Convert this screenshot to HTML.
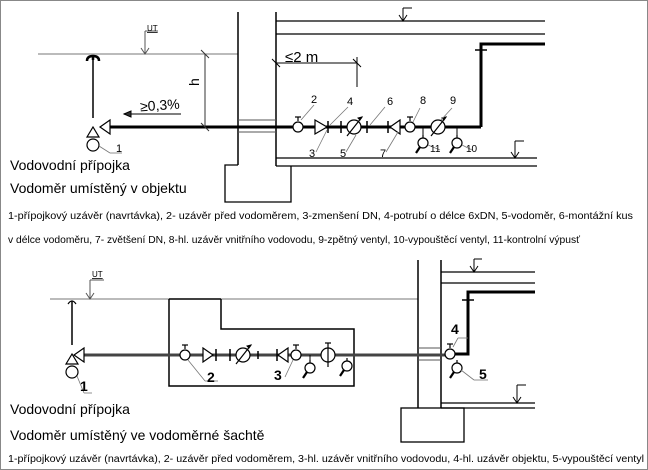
<!DOCTYPE html>
<html><head><meta charset="utf-8"><style>
html,body{margin:0;padding:0;background:#fff}
svg{display:block}
text{font-family:"Liberation Sans",sans-serif;fill:#000}
</style></head><body>
<svg width="648" height="470" viewBox="0 0 648 470">
<rect x="0.5" y="0.5" width="647" height="469" fill="#fff" stroke="#888"/>
<defs>
<g id="valve"><line x1="0" y1="-10" x2="0" y2="-6" stroke="#000" stroke-width="1.2"/><line x1="-3" y1="-10" x2="3" y2="-10" stroke="#000" stroke-width="1.2"/><circle cx="0" cy="0" r="5" fill="#fff" stroke="#000" stroke-width="1.2"/></g>
<g id="drain"><line x1="0" y1="-8" x2="0" y2="-4" stroke="#000" stroke-width="1.2"/><circle cx="0" cy="0" r="5" fill="#fff" stroke="#000" stroke-width="1.2"/><line x1="-3" y1="4" x2="-7" y2="10" stroke="#000" stroke-width="2.2"/></g>
<g id="meter"><circle cx="0" cy="0" r="7" fill="#fff" stroke="#000" stroke-width="1.2"/><line x1="-7" y1="9" x2="8" y2="-10" stroke="#000" stroke-width="1.2"/><path d="M8,-10 l-4,1 l2,2z" fill="#000"/></g>
</defs>

<!-- TOP DRAWING -->
<g stroke="#000" fill="none">
<line x1="38" y1="54" x2="238" y2="54" stroke="#777"/>
<line x1="145" y1="31" x2="145" y2="54" stroke="#555"/>
<path d="M141,48 L145,54 L149,48" stroke="#555"/>
<line x1="145" y1="31" x2="158" y2="31" stroke="#555"/>
<line x1="238" y1="12" x2="238" y2="165" stroke-width="1.5"/>
<line x1="276" y1="12" x2="276" y2="166" stroke-width="1.5"/>
<polyline points="238,165 225,165 225,202 291,202 291,166" stroke-width="1.3"/>
<line x1="276" y1="21" x2="545" y2="21" stroke-width="1.3"/>
<line x1="403" y1="8" x2="403" y2="21"/><line x1="403" y1="8" x2="412" y2="8"/><path d="M399,15 L403,21 L407,15"/>
<line x1="276" y1="34" x2="545" y2="34" stroke-width="1.3"/>
<polyline points="545,44 481,44 481,127" stroke-width="3"/>
<line x1="475" y1="50" x2="487" y2="50" stroke-width="1.5"/>
<line x1="276" y1="158" x2="537" y2="158" stroke-width="1.3"/>
<line x1="276" y1="166" x2="537" y2="166" stroke-width="1.3"/>
<line x1="515" y1="141" x2="515" y2="158"/><line x1="515" y1="141" x2="524" y2="141"/><path d="M511,152 L515,158 L519,152"/>
<line x1="238" y1="120" x2="276" y2="120" stroke="#555"/><line x1="238" y1="132" x2="276" y2="132" stroke="#555"/>
<line x1="108" y1="127" x2="481" y2="127" stroke-width="3"/>
<line x1="93" y1="57" x2="93" y2="118" stroke-width="1.5"/>
<path d="M87,61 Q87,56 93,56 Q99,56 99,61 M93,56 L93,60" stroke-width="2.5"/>
<path d="M110,120 L100,127 L110,134 Z" fill="#fff" stroke-width="1.2"/>
<path d="M87,137 L93,127 L99,137 Z" fill="#fff" stroke-width="1.2"/>
<circle cx="93" cy="145" r="6" fill="#fff" stroke-width="1.2"/>
<line x1="205" y1="54" x2="205" y2="127" stroke="#333"/>
<line x1="201" y1="50" x2="209" y2="58" stroke="#333"/>
<line x1="201" y1="123" x2="209" y2="131" stroke="#333"/>
<line x1="124" y1="114" x2="181" y2="114" stroke="#333" stroke-width="1.3"/><path d="M124,114 l7,-3 l0,6z" fill="#333"/>
<line x1="276" y1="63" x2="357" y2="63"/><line x1="357" y1="57" x2="357" y2="87"/>
<line x1="272" y1="59" x2="280" y2="67"/><line x1="353" y1="59" x2="361" y2="67"/>
<use href="#valve" x="298" y="127"/>
<path d="M315,120 L327,127 L315,134 Z" fill="#fff" stroke-width="1.2"/>
<line x1="328" y1="121" x2="328" y2="133" stroke-width="1.5"/>
<line x1="341" y1="121" x2="341" y2="133" stroke-width="1.5"/>
<use href="#meter" x="354" y="127"/>
<line x1="367" y1="121" x2="367" y2="133" stroke-width="1.5"/>
<line x1="388" y1="121" x2="388" y2="133" stroke-width="1.5"/>
<path d="M400,120 L390,127 L400,134 Z" fill="#fff" stroke-width="1.2"/>
<use href="#valve" x="410" y="127"/>
<use href="#drain" x="423" y="143"/><line x1="423" y1="127" x2="423" y2="135"/>
<use href="#meter" x="438" y="127"/>
<use href="#drain" x="457" y="143"/><line x1="457" y1="127" x2="457" y2="135"/>
<g stroke="#777" stroke-width="0.8">
<line x1="99" y1="146" x2="110" y2="153"/><line x1="110" y1="153" x2="122" y2="153"/>
<line x1="301" y1="120" x2="314" y2="105"/><line x1="327" y1="130" x2="316" y2="152"/>
<line x1="330" y1="125" x2="348" y2="107"/><line x1="356" y1="135" x2="346" y2="152"/>
<line x1="370" y1="125" x2="385" y2="107"/><line x1="398" y1="132" x2="386" y2="152"/>
<line x1="413" y1="122" x2="420" y2="108"/><line x1="441" y1="120" x2="452" y2="108"/>
<line x1="428" y1="145" x2="440" y2="150"/><line x1="462" y1="145" x2="472" y2="150"/>
</g>
</g>
<g>
<text x="147" y="31" font-size="8" text-decoration="underline">UT</text>
<text x="199" y="86" font-size="14" transform="rotate(-90 199 86)">h</text>
<text x="140" y="110" font-size="14" fill="#333" transform="rotate(-4 160 105)">≥0,3%</text>
<text x="285" y="62" font-size="15">≤2 m</text>
<text x="116" y="152" font-size="11">1</text>
<text x="311" y="103" font-size="11">2</text>
<text x="309" y="157" font-size="11">3</text>
<text x="347" y="105" font-size="11">4</text>
<text x="340" y="157" font-size="11">5</text>
<text x="387" y="105" font-size="11">6</text>
<text x="380" y="157" font-size="11">7</text>
<text x="420" y="104" font-size="11">8</text>
<text x="450" y="104" font-size="11">9</text>
<text x="430" y="152" font-size="10">11</text>
<text x="466" y="152" font-size="10">10</text>
<text x="10" y="170" font-size="14">Vodovodní přípojka</text>
<text x="10" y="193" font-size="14">Vodoměr umístěný v objektu</text>
<text x="8" y="219" font-size="10" textLength="625" lengthAdjust="spacingAndGlyphs">1-přípojkový uzávěr (navrtávka), 2- uzávěr před vodoměrem, 3-zmenšení DN, 4-potrubí o délce 6xDN, 5-vodoměr, 6-montážní kus</text>
<text x="8" y="243" font-size="10" textLength="572" lengthAdjust="spacingAndGlyphs">v délce vodoměru, 7- zvětšení DN, 8-hl. uzávěr vnitřního vodovodu, 9-zpětný ventyl, 10-vypouštěcí ventyl, 11-kontrolní výpusť</text>
</g>

<!-- BOTTOM DRAWING -->
<g stroke="#000" fill="none">
<line x1="50" y1="299" x2="418" y2="299" stroke="#777"/>
<line x1="90" y1="280" x2="90" y2="299" stroke="#555"/><line x1="90" y1="280" x2="104" y2="280" stroke="#555"/>
<path d="M86,293 L90,299 L94,293" stroke="#555"/>
<polyline points="169,299 169,386 354,386 354,329 221,329 221,299" stroke-width="1.5"/>
<line x1="169" y1="299" x2="221" y2="299" stroke-width="1.5"/>
<line x1="418" y1="260" x2="418" y2="408" stroke-width="1.5"/>
<line x1="441" y1="260" x2="441" y2="408" stroke-width="1.5"/>
<rect x="401" y="408" width="63" height="34" stroke-width="1.3"/>
<line x1="441" y1="272" x2="535" y2="272" stroke-width="1.3"/>
<line x1="474" y1="259" x2="474" y2="272"/><line x1="474" y1="259" x2="482" y2="259"/><path d="M470,266 L474,272 L478,266"/>
<line x1="441" y1="283" x2="535" y2="283" stroke-width="1.3"/>
<line x1="441" y1="403" x2="535" y2="403" stroke-width="1.3"/>
<line x1="441" y1="408" x2="535" y2="408" stroke-width="1.3"/>
<line x1="517" y1="385" x2="517" y2="403"/><line x1="517" y1="385" x2="526" y2="385"/><path d="M513,397 L517,403 L521,397"/>
<line x1="418" y1="348" x2="441" y2="348" stroke="#555"/><line x1="418" y1="360" x2="441" y2="360" stroke="#555"/>
<polyline points="535,292 468,292 468,354 455,354" stroke-width="3"/>
<line x1="462" y1="300" x2="474" y2="300" stroke-width="1.5"/>
<line x1="80" y1="355" x2="448" y2="355" stroke="#444" stroke-width="3"/>
<line x1="72" y1="301" x2="72" y2="345" stroke-width="1.5"/>
<path d="M68,304 Q72,298 76,304" stroke-width="1.2"/>
<path d="M84,348 L74,355 L84,362 Z" fill="#fff" stroke-width="1.2"/>
<path d="M66,364 L72,354 L78,364 Z" fill="#fff" stroke-width="1.2"/>
<circle cx="72" cy="372" r="6" fill="#fff" stroke-width="1.2"/>
<use href="#valve" x="185" y="355"/>
<path d="M203,348 L213,355 L203,362 Z" fill="#fff" stroke-width="1.2"/>
<line x1="216" y1="349" x2="216" y2="361" stroke-width="1.5"/>
<line x1="230" y1="349" x2="230" y2="361" stroke-width="1.5"/>
<use href="#meter" x="243" y="355"/>
<line x1="258" y1="351" x2="258" y2="359" stroke-width="1.5"/>
<line x1="277" y1="349" x2="277" y2="361" stroke-width="1.5"/>
<path d="M288,348 L278,355 L288,362 Z" fill="#fff" stroke-width="1.2"/>
<use href="#valve" x="296" y="355"/>
<use href="#drain" x="310" y="368"/><line x1="310" y1="355" x2="310" y2="360"/>
<g transform="translate(328,355)"><circle r="7" fill="#fff" stroke-width="1.2"/><line x1="0" y1="-12" x2="0" y2="12" stroke-width="1.2"/><line x1="-3" y1="-12" x2="3" y2="-12" stroke-width="1.2"/></g>
<use href="#drain" x="347" y="366"/>
<use href="#valve" x="450" y="354"/>
<use href="#drain" x="457" y="368"/>
<g stroke="#777" stroke-width="0.8">
<line x1="77" y1="376" x2="84" y2="393"/><line x1="84" y1="393" x2="92" y2="393"/>
<line x1="188" y1="360" x2="205" y2="381"/><line x1="205" y1="381" x2="218" y2="381"/>
<line x1="293" y1="360" x2="285" y2="377"/>
<line x1="453" y1="347" x2="458" y2="338"/><line x1="458" y1="338" x2="468" y2="338"/>
<line x1="461" y1="370" x2="474" y2="380"/><line x1="474" y1="380" x2="488" y2="380"/>
</g>
</g>
<g>
<text x="92" y="277" font-size="8" text-decoration="underline">UT</text>
<text x="80" y="391" font-size="14" font-weight="bold">1</text>
<text x="207" y="382" font-size="14" font-weight="bold">2</text>
<text x="274" y="380" font-size="14" font-weight="bold">3</text>
<text x="451" y="334" font-size="14" font-weight="bold">4</text>
<text x="479" y="379" font-size="14" font-weight="bold">5</text>
<text x="10" y="414" font-size="14">Vodovodní přípojka</text>
<text x="10" y="440" font-size="14">Vodoměr umístěný ve vodoměrné šachtě</text>
<text x="8" y="462" font-size="10" textLength="636" lengthAdjust="spacingAndGlyphs">1-přípojkový uzávěr (navrtávka), 2- uzávěr před vodoměrem, 3-hl. uzávěr vnitřního vodovodu, 4-hl. uzávěr objektu, 5-vypouštěcí ventyl</text>
</g>
</svg>
</body></html>
